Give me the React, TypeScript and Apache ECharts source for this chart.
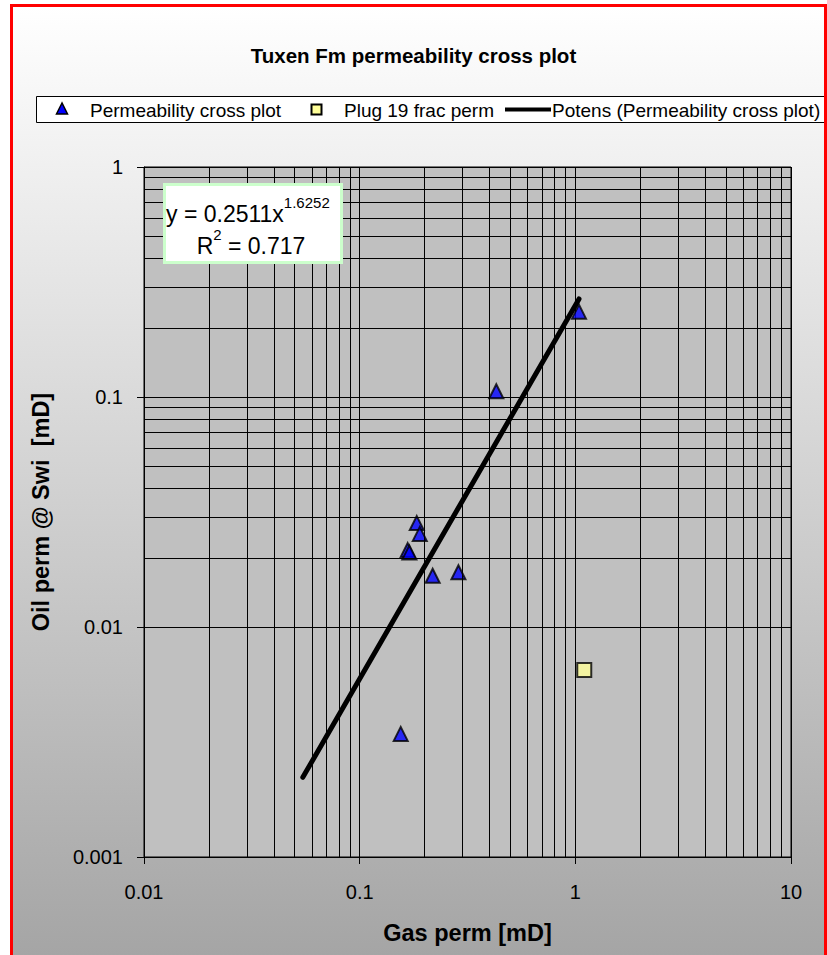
import React, { useEffect, useRef } from "react";
import * as echarts from "echarts";

// Data
const gasPerm = [1.04, 0.43, 0.184, 0.19, 0.167, 0.17, 0.218, 0.287, 0.155];
const oilPerm = [0.235, 0.106, 0.0283, 0.0254, 0.0216, 0.0211, 0.0167, 0.0173, 0.00343];
const plugGas = [1.1];
const plugOil = [0.0065];
const trendGas = [0.0545, 1.04];
const trendOil = [0.00222, 0.267];
const xDecades = [0.01, 0.1, 1];
const yDecades = [0.001, 0.01, 0.1];
const minorSteps = [2, 3, 4, 5, 6, 7, 8, 9];

const FONT = "'Liberation Sans', Arial, sans-serif";

const fmt = (v: number) => String(Number(Number(v).toPrecision(6)));

export default function App() {
  const ref = useRef<HTMLDivElement>(null);
  useEffect(() => {
    if (!ref.current) return;
    const chart = echarts.init(ref.current, undefined, { renderer: "svg" });

    const minorX: any[] = [];
    xDecades.forEach((d) => minorSteps.forEach((s) => minorX.push({ xAxis: Number((d * s).toPrecision(6)) })));
    const minorY: any[] = [];
    yDecades.forEach((d) => minorSteps.forEach((s) => minorY.push({ yAxis: Number((d * s).toPrecision(6)) })));

    const option: any = {
      animation: false,
      textStyle: { fontFamily: FONT },
      title: {
        text: "Tuxen Fm permeability cross plot",
        left: "center",
        top: 40,
        textStyle: { fontFamily: FONT, fontSize: 20.5, fontWeight: "bold", color: "#000" },
      },
      grid: {
        left: 144,
        top: 167,
        width: 647,
        height: 690,
        show: true,
        backgroundColor: "#C0C0C0",
        borderColor: "#000",
        borderWidth: 1,
        containLabel: false,
      },
      xAxis: {
        type: "log",
        logBase: 10,
        min: 0.01,
        max: 10,
        name: "Gas perm [mD]",
        nameLocation: "middle",
        nameGap: 64,
        nameTextStyle: { fontFamily: FONT, fontSize: 23.5, fontWeight: "bold", color: "#000" },
        axisLine: { show: true, lineStyle: { color: "#000", width: 1 } },
        axisTick: { show: true, length: 7, lineStyle: { color: "#000" } },
        axisLabel: { formatter: fmt, fontFamily: FONT, fontSize: 20, color: "#000", margin: 25 },
        splitLine: { show: true, lineStyle: { color: "#000", width: 1 } },
      },
      yAxis: {
        type: "log",
        logBase: 10,
        min: 0.001,
        max: 1,
        name: "Oil perm @ Swi  [mD]",
        nameLocation: "middle",
        nameGap: 91,
        nameRotate: 90,
        nameTextStyle: { fontFamily: FONT, fontSize: 23.5, fontWeight: "bold", color: "#000" },
        axisLine: { show: true, lineStyle: { color: "#000", width: 1 } },
        axisTick: { show: true, length: 7, lineStyle: { color: "#000" } },
        axisLabel: { formatter: fmt, fontFamily: FONT, fontSize: 20, color: "#000", margin: 21 },
        splitLine: { show: true, lineStyle: { color: "#000", width: 1 } },
      },
      series: [
        {
          name: "minor grid",
          type: "scatter",
          data: [],
          z: 1,
          silent: true,
          markLine: {
            silent: true,
            symbol: ["none", "none"],
            label: { show: false },
            lineStyle: { color: "#000", width: 1, type: "solid" },
            data: [...minorX, ...minorY],
          },
        },
        {
          name: "Permeability cross plot",
          type: "scatter",
          z: 3,
          symbol: "triangle",
          symbolSize: 14,
          itemStyle: { color: "#0000FF", borderColor: "#000", borderWidth: 2 },
          data: gasPerm.map((g, i) => [g, oilPerm[i]]),
        },
        {
          name: "Plug 19 frac perm",
          type: "scatter",
          z: 3,
          symbol: "rect",
          symbolSize: 14,
          itemStyle: { color: "#FFFF99", borderColor: "#000", borderWidth: 2 },
          data: plugGas.map((g, i) => [g, plugOil[i]]),
        },
        {
          name: "Potens (Permeability cross plot)",
          type: "line",
          z: 4,
          symbol: "none",
          lineStyle: { color: "#000", width: 5, cap: "round" },
          data: trendGas.map((g, i) => [g, trendOil[i]]),
        },
      ],
      graphic: [
        {
          type: "rect",
          z: -100,
          silent: true,
          shape: { x: 12, y: 6, width: 820, height: 960 },
          style: {
            fill: new echarts.graphic.LinearGradient(0, 0, 0, 1, [
              { offset: 0, color: "#FFFFFF" },
              { offset: 1, color: "#A4A4A4" },
            ]),
          },
        },
        {
          type: "rect",
          z: 100,
          silent: true,
          shape: { x: 11.5, y: 5.5, width: 814, height: 1000 },
          style: { fill: "none", stroke: "#FF0000", lineWidth: 3 },
        },
        // legend
        {
          type: "rect",
          z: 50,
          shape: { x: 36.5, y: 96.5, width: 788, height: 26 },
          style: { fill: "#FFFFFF", stroke: "#000", lineWidth: 1 },
        },
        {
          type: "polygon",
          z: 51,
          shape: { points: [[62, 103], [56.5, 114], [67.5, 114]] },
          style: { fill: "#0000FF", stroke: "#000", lineWidth: 1.5 },
        },
        {
          type: "text",
          z: 51,
          style: { text: "Permeability cross plot", x: 90, y: 110, verticalAlign: "middle", fontFamily: FONT, fontSize: 19, fill: "#000" },
        },
        {
          type: "rect",
          z: 51,
          shape: { x: 311.5, y: 104.5, width: 10, height: 10 },
          style: { fill: "#FFFF99", stroke: "#000", lineWidth: 2 },
        },
        {
          type: "text",
          z: 51,
          style: { text: "Plug 19 frac perm", x: 344, y: 110, verticalAlign: "middle", fontFamily: FONT, fontSize: 19, fill: "#000" },
        },
        {
          type: "line",
          z: 51,
          shape: { x1: 505, y1: 109.5, x2: 551, y2: 109.5 },
          style: { stroke: "#000", lineWidth: 4 },
        },
        {
          type: "text",
          z: 51,
          style: { text: "Potens (Permeability cross plot)", x: 552, y: 110, verticalAlign: "middle", fontFamily: FONT, fontSize: 19, fill: "#000" },
        },
        // equation box
        {
          type: "rect",
          z: 50,
          shape: { x: 164.5, y: 184.5, width: 177, height: 78 },
          style: { fill: "#FFFFFF", stroke: "#CCFFCC", lineWidth: 3 },
        },
        {
          type: "text",
          z: 51,
          style: {
            text: "{m|y = 0.2511x}{s|1.6252}",
            x: 166,
            y: 210,
            verticalAlign: "middle",
            rich: {
              m: { fontFamily: FONT, fontSize: 23, lineHeight: 30, fill: "#000", verticalAlign: "bottom" },
              s: { fontFamily: FONT, fontSize: 15, lineHeight: 30, fill: "#000", verticalAlign: "top" },
            },
          },
        },
        {
          type: "text",
          z: 51,
          style: {
            text: "{m|R}{s|2}{m| = 0.717}",
            x: 251,
            y: 242,
            align: "center",
            verticalAlign: "middle",
            rich: {
              m: { fontFamily: FONT, fontSize: 23, lineHeight: 30, fill: "#000", verticalAlign: "bottom" },
              s: { fontFamily: FONT, fontSize: 15, lineHeight: 30, fill: "#000", verticalAlign: "top" },
            },
          },
        },
      ],
    };
    chart.setOption(option);
    return () => chart.dispose();
  }, []);
  return (
    <div
      ref={ref}
      style={{ position: "fixed", left: 0, top: 0, width: 827, height: 955, background: "#FFFFFF" }}
    />
  );
}
